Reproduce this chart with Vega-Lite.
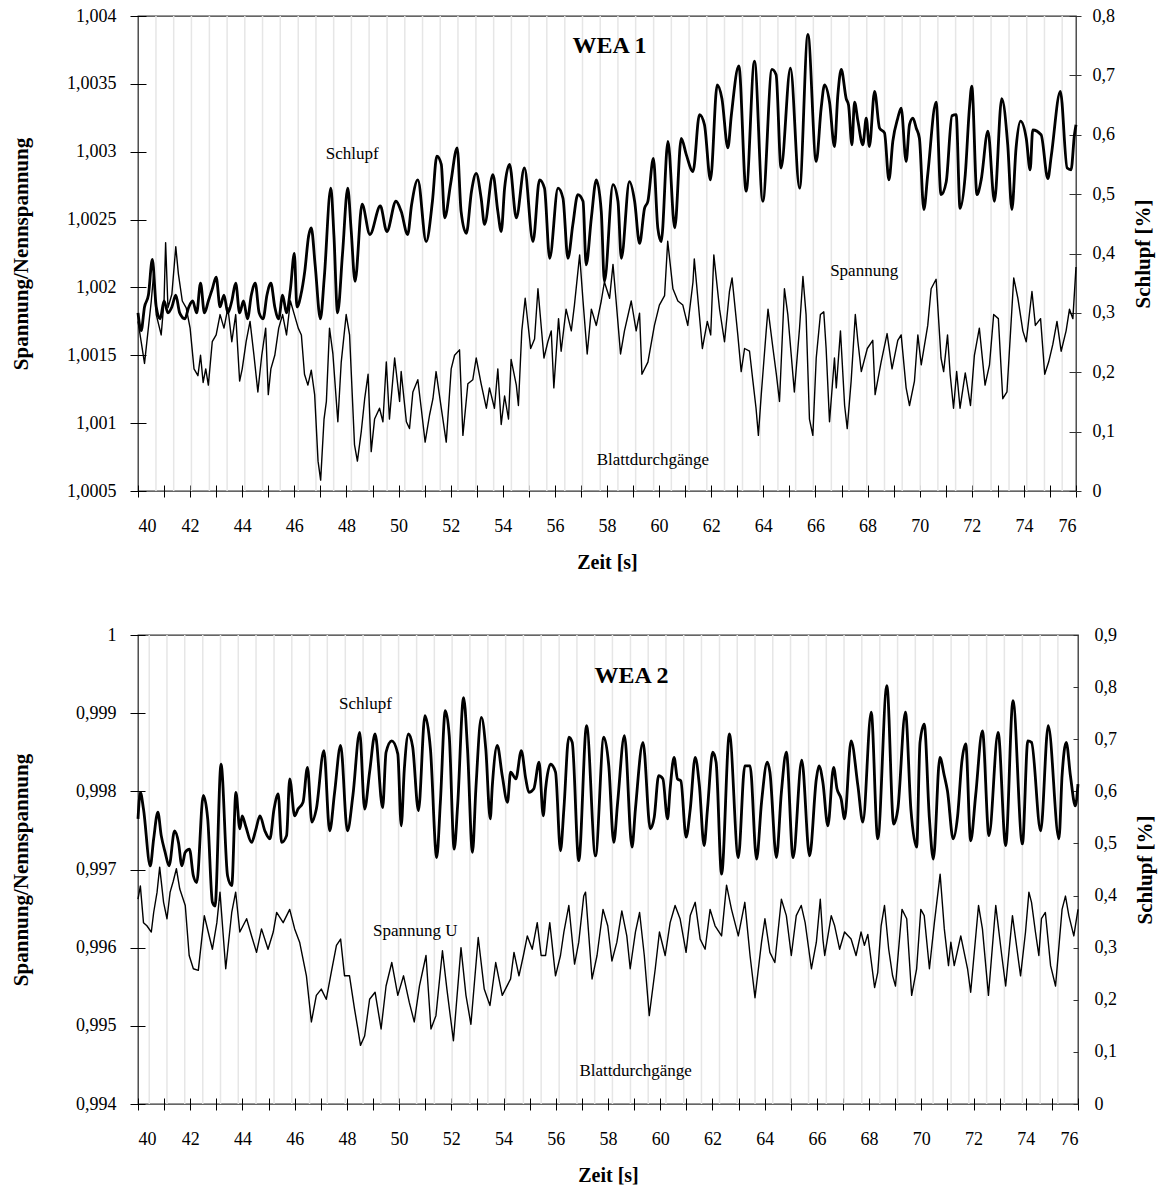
{
"$schema": "https://vega.github.io/schema/vega-lite/v6.json",
"background": "white",
"padding": {"left": 9, "top": 6, "right": 5, "bottom": 2},
"spacing": 52,
"config": {
  "view": {"stroke": "#333", "strokeWidth": 1.3},
  "font": "Liberation Serif",
  "axis": {"labelFont": "Liberation Serif", "titleFont": "Liberation Serif", "labelFontSize": 18, "labelColor": "#000", "titleColor": "#000", "grid": false, "tickColor": "#000", "domain": false},
  "text": {"font": "Liberation Serif", "color": "#000"},
  "line": {"color": "#000", "strokeJoin": "round"}
},
"datasets": {
  "b1": [{"t":40.69},{"t":41.37},{"t":42.05},{"t":42.74},{"t":43.42},{"t":44.10},{"t":44.78},{"t":45.46},{"t":46.15},{"t":46.83},{"t":47.51},{"t":48.19},{"t":48.87},{"t":49.56},{"t":50.24},{"t":50.92},{"t":51.60},{"t":52.28},{"t":52.97},{"t":53.65},{"t":54.33},{"t":55.01},{"t":55.69},{"t":56.38},{"t":57.06},{"t":57.74},{"t":58.42},{"t":59.10},{"t":59.79},{"t":60.47},{"t":61.15},{"t":61.83},{"t":62.51},{"t":63.20},{"t":63.88},{"t":64.56},{"t":65.24},{"t":65.92},{"t":66.61},{"t":67.29},{"t":67.97},{"t":68.65},{"t":69.33},{"t":70.02},{"t":70.70},{"t":71.38},{"t":72.06},{"t":72.74},{"t":73.43},{"t":74.11},{"t":74.79},{"t":75.47}],
  "b2": [{"t":40.43},{"t":41.11},{"t":41.79},{"t":42.48},{"t":43.16},{"t":43.84},{"t":44.52},{"t":45.21},{"t":45.89},{"t":46.57},{"t":47.25},{"t":47.94},{"t":48.62},{"t":49.30},{"t":49.98},{"t":50.67},{"t":51.35},{"t":52.03},{"t":52.71},{"t":53.40},{"t":54.08},{"t":54.76},{"t":55.44},{"t":56.13},{"t":56.81},{"t":57.49},{"t":58.17},{"t":58.86},{"t":59.54},{"t":60.22},{"t":60.90},{"t":61.58},{"t":62.27},{"t":62.95},{"t":63.63},{"t":64.31},{"t":64.99},{"t":65.68},{"t":66.36},{"t":67.04},{"t":67.72},{"t":68.41},{"t":69.09},{"t":69.77},{"t":70.45},{"t":71.14},{"t":71.82},{"t":72.50},{"t":73.18},{"t":73.87},{"t":74.55},{"t":75.23}],
  "s1": [{"t":40.0,"s":0.30},{"t":40.12,"s":0.27},{"t":40.25,"s":0.31},{"t":40.4,"s":0.33},{"t":40.55,"s":0.39},{"t":40.7,"s":0.31},{"t":40.85,"s":0.29},{"t":41.0,"s":0.32},{"t":41.15,"s":0.30},{"t":41.3,"s":0.31},{"t":41.45,"s":0.33},{"t":41.6,"s":0.30},{"t":41.8,"s":0.29},{"t":41.95,"s":0.31},{"t":42.1,"s":0.32},{"t":42.25,"s":0.30},{"t":42.4,"s":0.35},{"t":42.55,"s":0.30},{"t":42.7,"s":0.32},{"t":42.85,"s":0.34},{"t":43.0,"s":0.36},{"t":43.15,"s":0.31},{"t":43.3,"s":0.33},{"t":43.45,"s":0.30},{"t":43.6,"s":0.32},{"t":43.75,"s":0.35},{"t":43.9,"s":0.30},{"t":44.05,"s":0.32},{"t":44.2,"s":0.29},{"t":44.35,"s":0.33},{"t":44.5,"s":0.35},{"t":44.65,"s":0.30},{"t":44.8,"s":0.29},{"t":44.95,"s":0.33},{"t":45.1,"s":0.35},{"t":45.25,"s":0.31},{"t":45.4,"s":0.29},{"t":45.55,"s":0.33},{"t":45.7,"s":0.30},{"t":45.85,"s":0.34},{"t":46.0,"s":0.40},{"t":46.1,"s":0.31},{"t":46.25,"s":0.33},{"t":46.4,"s":0.37},{"t":46.55,"s":0.43},{"t":46.65,"s":0.443},{"t":46.8,"s":0.38},{"t":47.0,"s":0.29},{"t":47.15,"s":0.36},{"t":47.4,"s":0.51},{"t":47.52,"s":0.43},{"t":47.66,"s":0.30},{"t":47.85,"s":0.40},{"t":48.05,"s":0.51},{"t":48.18,"s":0.44},{"t":48.33,"s":0.353},{"t":48.6,"s":0.483},{"t":48.9,"s":0.432},{"t":49.3,"s":0.48},{"t":49.55,"s":0.437},{"t":49.9,"s":0.488},{"t":50.1,"s":0.471},{"t":50.35,"s":0.432},{"t":50.5,"s":0.482},{"t":50.74,"s":0.524},{"t":51.06,"s":0.42},{"t":51.3,"s":0.488},{"t":51.47,"s":0.564},{"t":51.64,"s":0.55},{"t":51.77,"s":0.46},{"t":52.0,"s":0.518},{"t":52.25,"s":0.578},{"t":52.4,"s":0.471},{"t":52.6,"s":0.434},{"t":52.8,"s":0.505},{"t":52.98,"s":0.535},{"t":53.17,"s":0.493},{"t":53.3,"s":0.449},{"t":53.62,"s":0.533},{"t":53.81,"s":0.471},{"t":53.94,"s":0.437},{"t":54.07,"s":0.51},{"t":54.26,"s":0.55},{"t":54.52,"s":0.46},{"t":54.83,"s":0.544},{"t":55.16,"s":0.42},{"t":55.41,"s":0.524},{"t":55.6,"s":0.51},{"t":55.8,"s":0.392},{"t":56.12,"s":0.51},{"t":56.31,"s":0.493},{"t":56.5,"s":0.392},{"t":56.69,"s":0.449},{"t":56.88,"s":0.499},{"t":57.08,"s":0.488},{"t":57.2,"s":0.381},{"t":57.4,"s":0.46},{"t":57.59,"s":0.524},{"t":57.78,"s":0.471},{"t":57.9,"s":0.353},{"t":58.23,"s":0.516},{"t":58.42,"s":0.488},{"t":58.55,"s":0.392},{"t":58.86,"s":0.521},{"t":59.06,"s":0.488},{"t":59.25,"s":0.417},{"t":59.44,"s":0.476},{"t":59.57,"s":0.488},{"t":59.78,"s":0.56},{"t":59.95,"s":0.443},{"t":60.08,"s":0.42},{"t":60.34,"s":0.589},{"t":60.6,"s":0.443},{"t":60.85,"s":0.594},{"t":61.04,"s":0.567},{"t":61.3,"s":0.538},{"t":61.55,"s":0.634},{"t":61.74,"s":0.617},{"t":61.97,"s":0.524},{"t":62.23,"s":0.684},{"t":62.41,"s":0.661},{"t":62.64,"s":0.578},{"t":62.77,"s":0.632},{"t":63.06,"s":0.716},{"t":63.34,"s":0.505},{"t":63.66,"s":0.724},{"t":63.98,"s":0.488},{"t":64.33,"s":0.71},{"t":64.49,"s":0.701},{"t":64.68,"s":0.544},{"t":65.04,"s":0.712},{"t":65.39,"s":0.51},{"t":65.71,"s":0.769},{"t":66.03,"s":0.555},{"t":66.22,"s":0.645},{"t":66.35,"s":0.684},{"t":66.54,"s":0.655},{"t":66.73,"s":0.58},{"t":66.86,"s":0.667},{"t":66.99,"s":0.71},{"t":67.18,"s":0.661},{"t":67.27,"s":0.65},{"t":67.4,"s":0.583},{"t":67.5,"s":0.655},{"t":67.63,"s":0.623},{"t":67.82,"s":0.583},{"t":67.95,"s":0.628},{"t":68.07,"s":0.58},{"t":68.27,"s":0.673},{"t":68.46,"s":0.611},{"t":68.65,"s":0.603},{"t":68.82,"s":0.524},{"t":68.97,"s":0.589},{"t":69.16,"s":0.628},{"t":69.29,"s":0.645},{"t":69.48,"s":0.555},{"t":69.61,"s":0.617},{"t":69.74,"s":0.628},{"t":69.87,"s":0.611},{"t":69.99,"s":0.594},{"t":70.16,"s":0.474},{"t":70.31,"s":0.533},{"t":70.63,"s":0.655},{"t":70.82,"s":0.499},{"t":71.02,"s":0.521},{"t":71.24,"s":0.632},{"t":71.4,"s":0.634},{"t":71.55,"s":0.476},{"t":71.75,"s":0.533},{"t":71.91,"s":0.645},{"t":72.0,"s":0.682},{"t":72.2,"s":0.499},{"t":72.36,"s":0.524},{"t":72.62,"s":0.606},{"t":72.87,"s":0.488},{"t":73.15,"s":0.661},{"t":73.38,"s":0.583},{"t":73.54,"s":0.474},{"t":73.7,"s":0.578},{"t":73.87,"s":0.623},{"t":74.09,"s":0.594},{"t":74.24,"s":0.541},{"t":74.34,"s":0.608},{"t":74.66,"s":0.6},{"t":74.92,"s":0.526},{"t":75.05,"s":0.564},{"t":75.4,"s":0.673},{"t":75.66,"s":0.544},{"t":75.81,"s":0.541},{"t":75.94,"s":0.6},{"t":76.0,"s":0.617}],
  "u1": [{"t":40.0,"v":1.00175},{"t":40.13,"v":1.00159},{"t":40.25,"v":1.00144},{"t":40.38,"v":1.00167},{"t":40.51,"v":1.0019},{"t":40.6,"v":1.0021},{"t":40.7,"v":1.0018},{"t":40.89,"v":1.00165},{"t":41.0,"v":1.0019},{"t":41.06,"v":1.00233},{"t":41.15,"v":1.00185},{"t":41.3,"v":1.00195},{"t":41.45,"v":1.0023},{"t":41.55,"v":1.0021},{"t":41.7,"v":1.0019},{"t":41.85,"v":1.00185},{"t":42.0,"v":1.0017},{"t":42.15,"v":1.0014},{"t":42.3,"v":1.00135},{"t":42.4,"v":1.0015},{"t":42.5,"v":1.0013},{"t":42.6,"v":1.0014},{"t":42.7,"v":1.00128},{"t":42.85,"v":1.0016},{"t":43.0,"v":1.00165},{"t":43.15,"v":1.0018},{"t":43.3,"v":1.0017},{"t":43.45,"v":1.00185},{"t":43.6,"v":1.0016},{"t":43.75,"v":1.0018},{"t":43.9,"v":1.00131},{"t":44.0,"v":1.0014},{"t":44.15,"v":1.0016},{"t":44.3,"v":1.00175},{"t":44.45,"v":1.0015},{"t":44.6,"v":1.00123},{"t":44.75,"v":1.0015},{"t":44.9,"v":1.0017},{"t":45.0,"v":1.00121},{"t":45.1,"v":1.0014},{"t":45.25,"v":1.0015},{"t":45.4,"v":1.0017},{"t":45.55,"v":1.0018},{"t":45.7,"v":1.00165},{"t":45.85,"v":1.0019},{"t":46.0,"v":1.0018},{"t":46.15,"v":1.0017},{"t":46.27,"v":1.00165},{"t":46.39,"v":1.00136},{"t":46.52,"v":1.00128},{"t":46.65,"v":1.00139},{"t":46.78,"v":1.00121},{"t":46.91,"v":1.00072},{"t":47.01,"v":1.00058},{"t":47.14,"v":1.00103},{"t":47.23,"v":1.00116},{"t":47.35,"v":1.0017},{"t":47.48,"v":1.00151},{"t":47.67,"v":1.00101},{"t":47.8,"v":1.00145},{"t":47.99,"v":1.0018},{"t":48.12,"v":1.00165},{"t":48.31,"v":1.00084},{"t":48.42,"v":1.00072},{"t":48.57,"v":1.00094},{"t":48.7,"v":1.00118},{"t":48.83,"v":1.00136},{"t":48.95,"v":1.00079},{"t":49.08,"v":1.00103},{"t":49.27,"v":1.00111},{"t":49.4,"v":1.00101},{"t":49.53,"v":1.00145},{"t":49.65,"v":1.00103},{"t":49.85,"v":1.00148},{"t":50.04,"v":1.00116},{"t":50.1,"v":1.00138},{"t":50.3,"v":1.00101},{"t":50.42,"v":1.00096},{"t":50.55,"v":1.00123},{"t":50.74,"v":1.00132},{"t":50.87,"v":1.00111},{"t":51.02,"v":1.00086},{"t":51.19,"v":1.00106},{"t":51.32,"v":1.00118},{"t":51.44,"v":1.00138},{"t":51.64,"v":1.00111},{"t":51.83,"v":1.00086},{"t":52.02,"v":1.0014},{"t":52.15,"v":1.0015},{"t":52.34,"v":1.00154},{"t":52.47,"v":1.00091},{"t":52.66,"v":1.00129},{"t":52.85,"v":1.00132},{"t":52.98,"v":1.00148},{"t":53.17,"v":1.00129},{"t":53.37,"v":1.00111},{"t":53.49,"v":1.00126},{"t":53.68,"v":1.00111},{"t":53.81,"v":1.0014},{"t":53.94,"v":1.00099},{"t":54.07,"v":1.0012},{"t":54.22,"v":1.00103},{"t":54.32,"v":1.00147},{"t":54.52,"v":1.00128},{"t":54.6,"v":1.00113},{"t":54.73,"v":1.00168},{"t":54.86,"v":1.00192},{"t":55.07,"v":1.00155},{"t":55.22,"v":1.00162},{"t":55.35,"v":1.00199},{"t":55.58,"v":1.00148},{"t":55.73,"v":1.0016},{"t":55.86,"v":1.00168},{"t":55.96,"v":1.00126},{"t":56.14,"v":1.00177},{"t":56.24,"v":1.00153},{"t":56.43,"v":1.00184},{"t":56.63,"v":1.00168},{"t":56.75,"v":1.00187},{"t":56.95,"v":1.00224},{"t":57.08,"v":1.0019},{"t":57.24,"v":1.00151},{"t":57.4,"v":1.00184},{"t":57.59,"v":1.00172},{"t":57.78,"v":1.0019},{"t":57.9,"v":1.00204},{"t":58.1,"v":1.00192},{"t":58.23,"v":1.00217},{"t":58.35,"v":1.0019},{"t":58.52,"v":1.00151},{"t":58.67,"v":1.00168},{"t":58.93,"v":1.0019},{"t":59.12,"v":1.00168},{"t":59.25,"v":1.00181},{"t":59.34,"v":1.00136},{"t":59.57,"v":1.00145},{"t":59.82,"v":1.00172},{"t":60.01,"v":1.00187},{"t":60.21,"v":1.00194},{"t":60.33,"v":1.00234},{"t":60.53,"v":1.00199},{"t":60.72,"v":1.0019},{"t":60.91,"v":1.00187},{"t":61.1,"v":1.00172},{"t":61.3,"v":1.00204},{"t":61.35,"v":1.00221},{"t":61.66,"v":1.00155},{"t":61.85,"v":1.00175},{"t":61.98,"v":1.00165},{"t":62.1,"v":1.00224},{"t":62.32,"v":1.00184},{"t":62.51,"v":1.0016},{"t":62.7,"v":1.00197},{"t":62.8,"v":1.00207},{"t":63.02,"v":1.00165},{"t":63.15,"v":1.00138},{"t":63.28,"v":1.00155},{"t":63.47,"v":1.00153},{"t":63.6,"v":1.00131},{"t":63.72,"v":1.00111},{"t":63.81,"v":1.00091},{"t":63.92,"v":1.00121},{"t":64.11,"v":1.00168},{"t":64.18,"v":1.00184},{"t":64.37,"v":1.00155},{"t":64.5,"v":1.00136},{"t":64.62,"v":1.00116},{"t":64.81,"v":1.00199},{"t":64.94,"v":1.0018},{"t":65.19,"v":1.00123},{"t":65.39,"v":1.0017},{"t":65.52,"v":1.00208},{"t":65.64,"v":1.0018},{"t":65.77,"v":1.00103},{"t":65.9,"v":1.00091},{"t":66.03,"v":1.00148},{"t":66.19,"v":1.0018},{"t":66.32,"v":1.00182},{"t":66.41,"v":1.00155},{"t":66.54,"v":1.00101},{"t":66.73,"v":1.00148},{"t":66.8,"v":1.00126},{"t":66.96,"v":1.00168},{"t":67.12,"v":1.00113},{"t":67.22,"v":1.00096},{"t":67.37,"v":1.00131},{"t":67.53,"v":1.0018},{"t":67.63,"v":1.0016},{"t":67.76,"v":1.00138},{"t":67.99,"v":1.00155},{"t":68.2,"v":1.00161},{"t":68.29,"v":1.00121},{"t":68.52,"v":1.00145},{"t":68.75,"v":1.00166},{"t":68.94,"v":1.0014},{"t":69.16,"v":1.00161},{"t":69.29,"v":1.00165},{"t":69.48,"v":1.00126},{"t":69.61,"v":1.00113},{"t":69.8,"v":1.00131},{"t":69.93,"v":1.00165},{"t":70.06,"v":1.00143},{"t":70.31,"v":1.00172},{"t":70.44,"v":1.00199},{"t":70.63,"v":1.00206},{"t":70.82,"v":1.00148},{"t":70.92,"v":1.00138},{"t":71.07,"v":1.00165},{"t":71.17,"v":1.00136},{"t":71.3,"v":1.00111},{"t":71.42,"v":1.00138},{"t":71.55,"v":1.00111},{"t":71.75,"v":1.00137},{"t":71.95,"v":1.00113},{"t":72.1,"v":1.0015},{"t":72.29,"v":1.0017},{"t":72.51,"v":1.00128},{"t":72.68,"v":1.00143},{"t":72.84,"v":1.0018},{"t":73.02,"v":1.00177},{"t":73.19,"v":1.00118},{"t":73.35,"v":1.00123},{"t":73.45,"v":1.00155},{"t":73.61,"v":1.00207},{"t":73.77,"v":1.00192},{"t":73.96,"v":1.00168},{"t":74.09,"v":1.0016},{"t":74.31,"v":1.00197},{"t":74.44,"v":1.00172},{"t":74.64,"v":1.00177},{"t":74.8,"v":1.00136},{"t":74.95,"v":1.00145},{"t":75.11,"v":1.00158},{"t":75.27,"v":1.00175},{"t":75.43,"v":1.00153},{"t":75.62,"v":1.00168},{"t":75.75,"v":1.00184},{"t":75.88,"v":1.00177},{"t":76.0,"v":1.00215}],
  "s2": [{"t":40.0,"s":0.547},{"t":40.09,"s":0.598},{"t":40.21,"s":0.566},{"t":40.47,"s":0.457},{"t":40.6,"s":0.509},{"t":40.76,"s":0.56},{"t":40.89,"s":0.515},{"t":41.04,"s":0.483},{"t":41.19,"s":0.457},{"t":41.4,"s":0.524},{"t":41.55,"s":0.502},{"t":41.68,"s":0.457},{"t":41.81,"s":0.483},{"t":41.97,"s":0.489},{"t":42.12,"s":0.438},{"t":42.25,"s":0.425},{"t":42.5,"s":0.592},{"t":42.67,"s":0.547},{"t":42.85,"s":0.387},{"t":42.95,"s":0.38},{"t":43.18,"s":0.652},{"t":43.43,"s":0.438},{"t":43.59,"s":0.419},{"t":43.75,"s":0.598},{"t":43.9,"s":0.528},{"t":43.99,"s":0.553},{"t":44.12,"s":0.534},{"t":44.35,"s":0.502},{"t":44.5,"s":0.524},{"t":44.67,"s":0.553},{"t":44.86,"s":0.524},{"t":45.05,"s":0.509},{"t":45.21,"s":0.566},{"t":45.37,"s":0.595},{"t":45.5,"s":0.502},{"t":45.69,"s":0.515},{"t":45.81,"s":0.624},{"t":46.0,"s":0.553},{"t":46.13,"s":0.566},{"t":46.32,"s":0.579},{"t":46.49,"s":0.646},{"t":46.66,"s":0.541},{"t":46.83,"s":0.566},{"t":47.12,"s":0.678},{"t":47.34,"s":0.524},{"t":47.53,"s":0.598},{"t":47.76,"s":0.688},{"t":48.02,"s":0.524},{"t":48.23,"s":0.592},{"t":48.49,"s":0.713},{"t":48.68,"s":0.566},{"t":48.87,"s":0.637},{"t":49.08,"s":0.71},{"t":49.37,"s":0.569},{"t":49.5,"s":0.675},{"t":49.72,"s":0.697},{"t":49.95,"s":0.672},{"t":50.08,"s":0.534},{"t":50.2,"s":0.643},{"t":50.36,"s":0.71},{"t":50.52,"s":0.685},{"t":50.74,"s":0.563},{"t":50.99,"s":0.745},{"t":51.2,"s":0.681},{"t":51.44,"s":0.473},{"t":51.58,"s":0.579},{"t":51.77,"s":0.755},{"t":51.92,"s":0.707},{"t":52.11,"s":0.489},{"t":52.24,"s":0.572},{"t":52.47,"s":0.78},{"t":52.62,"s":0.681},{"t":52.81,"s":0.483},{"t":52.94,"s":0.605},{"t":53.15,"s":0.742},{"t":53.32,"s":0.681},{"t":53.49,"s":0.547},{"t":53.57,"s":0.611},{"t":53.76,"s":0.688},{"t":53.95,"s":0.63},{"t":54.15,"s":0.579},{"t":54.27,"s":0.637},{"t":54.47,"s":0.624},{"t":54.68,"s":0.678},{"t":54.85,"s":0.624},{"t":54.97,"s":0.598},{"t":55.16,"s":0.605},{"t":55.36,"s":0.656},{"t":55.52,"s":0.553},{"t":55.61,"s":0.605},{"t":55.8,"s":0.652},{"t":55.99,"s":0.637},{"t":56.18,"s":0.486},{"t":56.31,"s":0.566},{"t":56.5,"s":0.704},{"t":56.63,"s":0.694},{"t":56.88,"s":0.467},{"t":57.18,"s":0.726},{"t":57.52,"s":0.476},{"t":57.84,"s":0.704},{"t":58.03,"s":0.649},{"t":58.22,"s":0.502},{"t":58.37,"s":0.579},{"t":58.63,"s":0.707},{"t":58.92,"s":0.493},{"t":59.05,"s":0.566},{"t":59.34,"s":0.694},{"t":59.62,"s":0.528},{"t":59.77,"s":0.55},{"t":59.94,"s":0.63},{"t":60.1,"s":0.624},{"t":60.28,"s":0.547},{"t":60.38,"s":0.605},{"t":60.53,"s":0.665},{"t":60.66,"s":0.624},{"t":60.79,"s":0.62},{"t":60.99,"s":0.512},{"t":61.15,"s":0.566},{"t":61.34,"s":0.665},{"t":61.5,"s":0.611},{"t":61.68,"s":0.496},{"t":61.81,"s":0.566},{"t":62.01,"s":0.675},{"t":62.14,"s":0.656},{"t":62.35,"s":0.441},{"t":62.65,"s":0.71},{"t":62.99,"s":0.473},{"t":63.24,"s":0.649},{"t":63.44,"s":0.649},{"t":63.69,"s":0.47},{"t":63.88,"s":0.579},{"t":64.1,"s":0.656},{"t":64.2,"s":0.637},{"t":64.45,"s":0.473},{"t":64.64,"s":0.598},{"t":64.83,"s":0.675},{"t":65.09,"s":0.473},{"t":65.42,"s":0.66},{"t":65.72,"s":0.476},{"t":65.98,"s":0.624},{"t":66.08,"s":0.649},{"t":66.23,"s":0.617},{"t":66.42,"s":0.534},{"t":66.64,"s":0.646},{"t":66.77,"s":0.605},{"t":66.93,"s":0.585},{"t":67.06,"s":0.547},{"t":67.31,"s":0.697},{"t":67.57,"s":0.611},{"t":67.76,"s":0.541},{"t":68.08,"s":0.752},{"t":68.33,"s":0.509},{"t":68.68,"s":0.803},{"t":68.94,"s":0.537},{"t":69.1,"s":0.566},{"t":69.39,"s":0.752},{"t":69.6,"s":0.566},{"t":69.82,"s":0.493},{"t":69.95,"s":0.694},{"t":70.11,"s":0.729},{"t":70.31,"s":0.547},{"t":70.46,"s":0.47},{"t":70.71,"s":0.665},{"t":70.88,"s":0.63},{"t":71.0,"s":0.601},{"t":71.22,"s":0.509},{"t":71.39,"s":0.553},{"t":71.55,"s":0.656},{"t":71.7,"s":0.691},{"t":71.89,"s":0.505},{"t":72.08,"s":0.592},{"t":72.34,"s":0.716},{"t":72.59,"s":0.515},{"t":72.94,"s":0.713},{"t":73.23,"s":0.496},{"t":73.51,"s":0.774},{"t":73.87,"s":0.499},{"t":74.08,"s":0.697},{"t":74.22,"s":0.694},{"t":74.57,"s":0.524},{"t":74.86,"s":0.726},{"t":75.27,"s":0.509},{"t":75.39,"s":0.63},{"t":75.55,"s":0.694},{"t":75.71,"s":0.63},{"t":75.9,"s":0.572},{"t":76.0,"s":0.614}],
  "u2": [{"t":40.0,"v":0.99662},{"t":40.09,"v":0.99679},{"t":40.21,"v":0.99632},{"t":40.34,"v":0.99628},{"t":40.51,"v":0.9962},{"t":40.6,"v":0.99645},{"t":40.73,"v":0.99671},{"t":40.83,"v":0.99703},{"t":40.98,"v":0.99658},{"t":41.11,"v":0.99637},{"t":41.23,"v":0.99671},{"t":41.35,"v":0.99685},{"t":41.47,"v":0.99701},{"t":41.6,"v":0.99675},{"t":41.81,"v":0.99654},{"t":41.96,"v":0.9959},{"t":42.12,"v":0.99573},{"t":42.31,"v":0.99571},{"t":42.54,"v":0.99641},{"t":42.69,"v":0.9962},{"t":42.85,"v":0.99598},{"t":43.02,"v":0.99632},{"t":43.14,"v":0.99671},{"t":43.36,"v":0.99573},{"t":43.59,"v":0.99645},{"t":43.74,"v":0.99671},{"t":43.9,"v":0.9962},{"t":44.16,"v":0.99637},{"t":44.35,"v":0.99615},{"t":44.54,"v":0.99594},{"t":44.73,"v":0.99624},{"t":44.98,"v":0.99598},{"t":45.18,"v":0.9962},{"t":45.31,"v":0.99645},{"t":45.56,"v":0.99632},{"t":45.81,"v":0.99649},{"t":46.0,"v":0.99624},{"t":46.19,"v":0.99607},{"t":46.45,"v":0.99564},{"t":46.64,"v":0.99505},{"t":46.83,"v":0.99539},{"t":47.02,"v":0.99547},{"t":47.21,"v":0.99534},{"t":47.4,"v":0.99568},{"t":47.6,"v":0.99603},{"t":47.76,"v":0.99611},{"t":47.91,"v":0.99564},{"t":48.1,"v":0.99564},{"t":48.29,"v":0.99522},{"t":48.42,"v":0.99496},{"t":48.52,"v":0.99475},{"t":48.68,"v":0.99487},{"t":48.87,"v":0.99534},{"t":49.08,"v":0.99543},{"t":49.31,"v":0.99496},{"t":49.5,"v":0.99551},{"t":49.72,"v":0.99581},{"t":49.95,"v":0.99539},{"t":50.17,"v":0.99564},{"t":50.39,"v":0.9953},{"t":50.58,"v":0.99505},{"t":50.78,"v":0.99551},{"t":51.03,"v":0.9959},{"t":51.22,"v":0.99496},{"t":51.41,"v":0.99513},{"t":51.66,"v":0.99596},{"t":51.83,"v":0.99547},{"t":52.08,"v":0.99481},{"t":52.37,"v":0.996},{"t":52.56,"v":0.99539},{"t":52.75,"v":0.99502},{"t":53.03,"v":0.99613},{"t":53.26,"v":0.99547},{"t":53.48,"v":0.99526},{"t":53.7,"v":0.99581},{"t":53.95,"v":0.99539},{"t":54.27,"v":0.9956},{"t":54.4,"v":0.99594},{"t":54.59,"v":0.99564},{"t":54.76,"v":0.9959},{"t":54.91,"v":0.99615},{"t":55.1,"v":0.99598},{"t":55.29,"v":0.99632},{"t":55.44,"v":0.9959},{"t":55.61,"v":0.9959},{"t":55.77,"v":0.99632},{"t":55.99,"v":0.99564},{"t":56.18,"v":0.9959},{"t":56.31,"v":0.9962},{"t":56.5,"v":0.99654},{"t":56.72,"v":0.99579},{"t":56.88,"v":0.99607},{"t":57.07,"v":0.99666},{"t":57.14,"v":0.99671},{"t":57.39,"v":0.9956},{"t":57.58,"v":0.9959},{"t":57.81,"v":0.99649},{"t":57.99,"v":0.99628},{"t":58.15,"v":0.99583},{"t":58.34,"v":0.99607},{"t":58.53,"v":0.99647},{"t":58.72,"v":0.99615},{"t":58.85,"v":0.99573},{"t":59.05,"v":0.9962},{"t":59.21,"v":0.99645},{"t":59.39,"v":0.9959},{"t":59.58,"v":0.99513},{"t":59.81,"v":0.99573},{"t":59.97,"v":0.9962},{"t":60.19,"v":0.9959},{"t":60.38,"v":0.99632},{"t":60.57,"v":0.99654},{"t":60.76,"v":0.99637},{"t":60.99,"v":0.99594},{"t":61.15,"v":0.99641},{"t":61.34,"v":0.99658},{"t":61.53,"v":0.99611},{"t":61.72,"v":0.99598},{"t":61.91,"v":0.99649},{"t":62.1,"v":0.99628},{"t":62.35,"v":0.99615},{"t":62.54,"v":0.9968},{"t":62.73,"v":0.99649},{"t":62.99,"v":0.99615},{"t":63.24,"v":0.99658},{"t":63.44,"v":0.9959},{"t":63.63,"v":0.99536},{"t":63.88,"v":0.99607},{"t":64.01,"v":0.99637},{"t":64.2,"v":0.99594},{"t":64.39,"v":0.99581},{"t":64.64,"v":0.99662},{"t":64.83,"v":0.99641},{"t":65.02,"v":0.9959},{"t":65.21,"v":0.99641},{"t":65.4,"v":0.99654},{"t":65.55,"v":0.99632},{"t":65.79,"v":0.99573},{"t":65.98,"v":0.99607},{"t":66.13,"v":0.99662},{"t":66.23,"v":0.99611},{"t":66.3,"v":0.9959},{"t":66.55,"v":0.99641},{"t":66.68,"v":0.99628},{"t":66.87,"v":0.99598},{"t":67.06,"v":0.9962},{"t":67.31,"v":0.99611},{"t":67.5,"v":0.9959},{"t":67.69,"v":0.9962},{"t":67.82,"v":0.99603},{"t":67.95,"v":0.99617},{"t":68.21,"v":0.99549},{"t":68.33,"v":0.99568},{"t":68.46,"v":0.99628},{"t":68.59,"v":0.99654},{"t":68.75,"v":0.99598},{"t":68.9,"v":0.99564},{"t":69.01,"v":0.99551},{"t":69.26,"v":0.99649},{"t":69.44,"v":0.99637},{"t":69.63,"v":0.99539},{"t":69.82,"v":0.99573},{"t":69.98,"v":0.99649},{"t":70.11,"v":0.99641},{"t":70.31,"v":0.99573},{"t":70.5,"v":0.99632},{"t":70.72,"v":0.99694},{"t":70.88,"v":0.99624},{"t":71.04,"v":0.99577},{"t":71.13,"v":0.99607},{"t":71.26,"v":0.99577},{"t":71.51,"v":0.99615},{"t":71.77,"v":0.99573},{"t":71.89,"v":0.99543},{"t":72.19,"v":0.99654},{"t":72.34,"v":0.99624},{"t":72.57,"v":0.99539},{"t":72.85,"v":0.99654},{"t":73.08,"v":0.9959},{"t":73.23,"v":0.99551},{"t":73.49,"v":0.99641},{"t":73.8,"v":0.99564},{"t":73.99,"v":0.9962},{"t":74.12,"v":0.99671},{"t":74.22,"v":0.99658},{"t":74.37,"v":0.9962},{"t":74.5,"v":0.9959},{"t":74.6,"v":0.99637},{"t":74.75,"v":0.99645},{"t":74.95,"v":0.99577},{"t":75.14,"v":0.99551},{"t":75.39,"v":0.99649},{"t":75.52,"v":0.99666},{"t":75.65,"v":0.99641},{"t":75.84,"v":0.99615},{"t":76.0,"v":0.99649}],
  "ann1": [{"t":48.22,"v":1.00298,"txt":"Schlupf"},{"t":67.87,"v":1.00212,"txt":"Spannung"},{"t":59.76,"v":1.00073,"txt":"Blattdurchgänge"}],
  "ttl1": [{"t":58.1,"v":1.00378,"txt":"WEA 1"}],
  "ann2": [{"t":48.71,"v":0.99912,"txt":"Schlupf"},{"t":50.62,"v":0.99621,"txt":"Spannung U"},{"t":59.06,"v":0.99442,"txt":"Blattdurchgänge"}],
  "ttl2": [{"t":58.9,"v":0.99948,"txt":"WEA 2"}]
},
"vconcat": [
  {
    "width": 938, "height": 475,
    "encoding": {"x": {"field": "t", "type": "quantitative", "scale": {"domain": [40, 76], "nice": false, "zero": false},
      "axis": {"orient": "bottom", "values": [40,41,42,43,44,45,46,47,48,49,50,51,52,53,54,55,56,57,58,59,60,61,62,63,64,65,66,67,68,69,70,71,72,73,74,75,76], "format": "d", "labelExpr": "datum.value % 2 === 0 ? datum.label : ''", "offset": -6, "tickSize": 12, "labelPadding": 20, "title": "Zeit [s]", "titleFontSize": 20, "titleFontWeight": "bold", "titlePadding": 17}}},
    "layer": [
      {"data": {"name": "b1"}, "mark": {"type": "rule", "color": "#e6e6e6", "strokeWidth": 1.5}},
      {"data": {"name": "u1"}, "mark": {"type": "line", "strokeWidth": 1.4},
       "encoding": {"y": {"field": "v", "type": "quantitative", "scale": {"domain": [1.0005, 1.004], "nice": false, "zero": false},
           "axis": {"orient": "left", "values": [1.0005,1.001,1.0015,1.002,1.0025,1.003,1.0035,1.004], "labelExpr": "replace(format(datum.value, '.4~f'), '.', ',')", "offset": -8, "tickSize": 16, "labelPadding": 14, "title": "Spannung/Nennspannung", "titleFontSize": 21, "titleFontWeight": "bold", "titleAngle": -90, "titleBaseline": "middle", "titleX": -125}}}},
      {"data": {"name": "s1"}, "mark": {"type": "line", "strokeWidth": 2.8, "interpolate": "monotone"},
       "encoding": {"y": {"field": "s", "type": "quantitative", "scale": {"domain": [0, 0.8], "nice": false},
           "axis": {"orient": "right", "values": [0,0.1,0.2,0.3,0.4,0.5,0.6,0.7,0.8], "labelExpr": "replace(format(datum.value, '.1~f'), '.', ',')", "offset": -7, "tickSize": 12, "labelPadding": 11, "tickColor": "#333", "title": "Schlupf [%]", "titleFontSize": 21, "titleFontWeight": "bold", "titleAngle": -90, "titleBaseline": "middle", "titleX": 74}}}},
      {"data": {"name": "ann1"}, "mark": {"type": "text", "fontSize": 17, "align": "center", "baseline": "middle"},
       "encoding": {"y": {"field": "v", "type": "quantitative", "scale": {"domain": [1.0005, 1.004], "nice": false, "zero": false}, "axis": null},
         "text": {"field": "txt"}}},
      {"data": {"name": "ttl1"}, "mark": {"type": "text", "fontSize": 24, "fontWeight": "bold", "align": "center", "baseline": "middle"},
       "encoding": {"y": {"field": "v", "type": "quantitative", "scale": {"domain": [1.0005, 1.004], "nice": false, "zero": false}, "axis": null},
         "text": {"field": "txt"}}}
    ],
    "resolve": {"scale": {"y": "independent"}}
  },
  {
    "width": 940, "height": 469,
    "encoding": {"x": {"field": "t", "type": "quantitative", "scale": {"domain": [40, 76], "nice": false, "zero": false},
      "axis": {"orient": "bottom", "values": [40,41,42,43,44,45,46,47,48,49,50,51,52,53,54,55,56,57,58,59,60,61,62,63,64,65,66,67,68,69,70,71,72,73,74,75,76], "format": "d", "labelExpr": "datum.value % 2 === 0 ? datum.label : ''", "offset": -6, "tickSize": 12, "labelPadding": 20, "title": "Zeit [s]", "titleFontSize": 20, "titleFontWeight": "bold", "titlePadding": 17}}},
    "layer": [
      {"data": {"name": "b2"}, "mark": {"type": "rule", "color": "#e6e6e6", "strokeWidth": 1.5}},
      {"data": {"name": "u2"}, "mark": {"type": "line", "strokeWidth": 1.4},
       "encoding": {"y": {"field": "v", "type": "quantitative", "scale": {"domain": [0.994, 1], "nice": false, "zero": false},
           "axis": {"orient": "left", "values": [0.994,0.995,0.996,0.997,0.998,0.999,1], "labelExpr": "replace(format(datum.value, '.3~f'), '.', ',')", "offset": -7, "tickSize": 15, "labelPadding": 14, "title": "Spannung/Nennspannung", "titleFontSize": 21, "titleFontWeight": "bold", "titleAngle": -90, "titleBaseline": "middle", "titleX": -124}}}},
      {"data": {"name": "s2"}, "mark": {"type": "line", "strokeWidth": 2.8, "interpolate": "monotone"},
       "encoding": {"y": {"field": "s", "type": "quantitative", "scale": {"domain": [0, 0.9], "nice": false},
           "axis": {"orient": "right", "values": [0,0.1,0.2,0.3,0.4,0.5,0.6,0.7,0.8,0.9], "labelExpr": "replace(format(datum.value, '.1~f'), '.', ',')", "offset": -5, "tickSize": 5, "labelPadding": 16, "tickColor": "#333", "title": "Schlupf [%]", "titleFontSize": 21, "titleFontWeight": "bold", "titleAngle": -90, "titleBaseline": "middle", "titleX": 72}}}},
      {"data": {"name": "ann2"}, "mark": {"type": "text", "fontSize": 17, "align": "center", "baseline": "middle"},
       "encoding": {"y": {"field": "v", "type": "quantitative", "scale": {"domain": [0.994, 1], "nice": false, "zero": false}, "axis": null},
         "text": {"field": "txt"}}},
      {"data": {"name": "ttl2"}, "mark": {"type": "text", "fontSize": 24, "fontWeight": "bold", "align": "center", "baseline": "middle"},
       "encoding": {"y": {"field": "v", "type": "quantitative", "scale": {"domain": [0.994, 1], "nice": false, "zero": false}, "axis": null},
         "text": {"field": "txt"}}}
    ],
    "resolve": {"scale": {"y": "independent"}}
  }
]
}
